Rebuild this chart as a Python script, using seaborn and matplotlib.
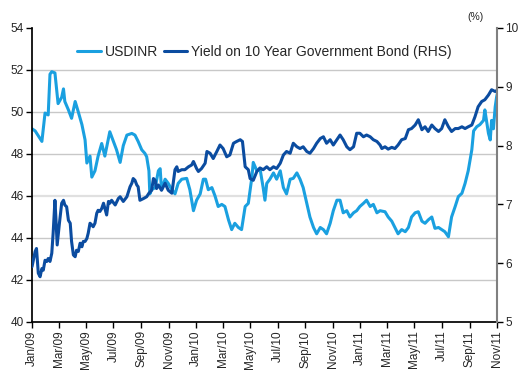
import numpy as np
import pandas as pd
import matplotlib
matplotlib.use("Agg")
import matplotlib.pyplot as plt
import matplotlib.dates as mdates
import seaborn as sns

# USD/INR exchange rate: days since 1 Jan 2009, rate
inr_days = [0, 7, 22, 29, 36, 40, 44, 51, 58, 66, 70, 73, 81, 88, 96, 103, 111, 118, 122, 129,
            133, 140, 147, 155, 162, 173, 181, 188, 196, 203, 211, 222, 229, 236, 244, 251, 255, 260,
            262, 266, 274, 281, 285, 288, 296, 303, 311, 318, 325, 333, 344, 351, 359, 366, 374,
            381, 386, 392, 400, 407, 414, 422, 429, 437, 444, 451, 459, 466, 474, 481, 489, 492,
            500, 507, 514, 518, 522, 529, 537, 544, 552, 559, 566, 574, 581, 589, 596, 603, 611,
            618, 626, 633, 641, 648, 655, 663, 670, 678, 685, 692, 700, 707, 715, 722, 729, 737,
            744, 752, 759, 767, 774, 785, 792, 800, 807, 814, 822, 830, 837, 844, 852, 859, 867,
            874, 881, 889, 896, 904, 911, 918, 926, 933, 941, 948, 956, 963, 970, 978, 982, 989,
            996, 1004, 1007, 1015, 1019, 1022, 1026, 1030, 1033, 1036]
inr_rate = [49.2, 49.1, 48.6, 49.95, 49.86, 51.8, 51.92, 51.86, 50.4, 50.7, 51.1, 50.5, 50.1, 49.7,
            50.5, 50.0, 49.4, 48.67, 47.57, 47.9, 46.9, 47.2, 47.9, 48.5, 47.9, 49.06, 48.6, 48.2,
            47.6, 48.4, 48.9, 48.98, 48.9, 48.6, 48.2, 48.03, 47.87, 47.2, 46.1, 46.3, 46.4, 47.2,
            47.3, 46.3, 46.8, 46.6, 46.3, 46.1, 46.6, 46.8, 46.84, 46.3, 45.3, 45.8, 46.1, 46.8,
            46.8, 46.3, 46.4, 46.0, 45.5, 45.6, 45.5, 44.86, 44.4, 44.7, 44.5, 44.4, 45.5, 45.65,
            46.9, 47.6, 47.2, 47.3, 46.4, 45.8, 46.6, 46.8, 47.1, 46.8, 47.2, 46.4, 46.1, 46.8,
            46.84, 47.1, 46.8, 46.4, 45.65, 45.0, 44.5, 44.2, 44.5, 44.4, 44.2, 44.7, 45.3, 45.8,
            45.8, 45.2, 45.3, 45.0, 45.2, 45.3, 45.5, 45.65, 45.8, 45.5, 45.6, 45.2, 45.3, 45.25,
            45.0, 44.8, 44.5, 44.2, 44.4, 44.3, 44.5, 45.0, 45.2, 45.25, 44.8, 44.7, 44.86, 45.0,
            44.46, 44.5, 44.4, 44.3, 44.06, 45.0, 45.5, 45.97, 46.13, 46.6, 47.2, 48.2, 49.1, 49.3,
            49.4, 49.6, 50.1, 48.98, 48.67, 49.6, 49.2, 50.25, 50.7, 51.0]

# 10-year government bond yield (%): days since 1 Jan 2009, yield
gsec_days = [0, 3, 7, 10, 14, 18, 22, 25, 29, 33, 36, 40, 44, 47, 51, 53, 56, 61, 66, 70, 73, 77,
             81, 85, 88, 92, 96, 99, 103, 107, 111, 114, 118, 122, 125, 129, 133, 136, 140, 144,
             147, 151, 155, 159, 166, 170, 173, 177, 185, 192, 196, 203, 211, 218, 222, 225, 229,
             233, 236, 240, 248, 255, 260, 266, 270, 274, 277, 281, 288, 296, 303, 311, 314, 318,
             322, 325, 333, 340, 348, 355, 359, 366, 370, 377, 385, 389, 396, 403, 411, 418, 425,
             433, 440, 448, 455, 463, 468, 474, 481, 485, 492, 500, 507, 514, 522, 529, 537, 544,
             552, 559, 566, 574, 581, 589, 596, 603, 611, 618, 626, 633, 641, 648, 655, 663, 670,
             678, 685, 692, 700, 707, 715, 722, 729, 737, 744, 752, 759, 767, 774, 778, 785, 792,
             800, 807, 814, 822, 830, 837, 844, 852, 859, 867, 874, 881, 889, 896, 904, 911, 918,
             926, 933, 941, 948, 956, 963, 970, 978, 985, 992, 1000, 1007, 1015, 1022, 1030, 1036]
gsec_yield = [5.94, 6.05, 6.20, 6.25, 5.83, 5.77, 5.91, 5.88, 6.05, 6.03, 6.08, 6.03, 6.17, 6.51,
              7.07, 6.79, 6.31, 6.68, 7.02, 7.07, 6.99, 6.96, 6.73, 6.68, 6.37, 6.14, 6.11, 6.22,
              6.20, 6.34, 6.28, 6.37, 6.37, 6.42, 6.51, 6.68, 6.65, 6.62, 6.68, 6.85, 6.90, 6.88,
              6.93, 7.02, 6.82, 7.05, 7.02, 7.07, 6.99, 7.10, 7.13, 7.05, 7.13, 7.30, 7.36, 7.44,
              7.41, 7.33, 7.30, 7.07, 7.10, 7.13, 7.19, 7.24, 7.44, 7.41, 7.27, 7.33, 7.24, 7.36,
              7.24, 7.19, 7.36, 7.59, 7.64, 7.56, 7.59, 7.59, 7.64, 7.67, 7.73, 7.61, 7.56, 7.61,
              7.70, 7.90, 7.87, 7.78, 7.90, 8.01, 7.95, 7.81, 7.84, 8.04, 8.07, 8.10, 8.07, 7.64,
              7.59, 7.44, 7.41, 7.56, 7.62, 7.59, 7.64, 7.59, 7.64, 7.61, 7.70, 7.84, 7.90, 7.87,
              8.04, 7.98, 7.95, 7.98, 7.90, 7.87, 7.95, 8.04, 8.12, 8.15, 8.04, 8.10, 8.01, 8.10,
              8.18, 8.10, 7.98, 7.93, 7.98, 8.21, 8.21, 8.15, 8.18, 8.15, 8.10, 8.07, 8.01, 7.95,
              7.98, 7.94, 7.97, 7.95, 8.01, 8.10, 8.12, 8.27, 8.29, 8.35, 8.44, 8.27, 8.32, 8.24,
              8.35, 8.29, 8.24, 8.29, 8.44, 8.32, 8.24, 8.29, 8.29, 8.32, 8.29, 8.32, 8.35, 8.49,
              8.66, 8.75, 8.78, 8.86, 8.95, 8.92, 8.95]

start = pd.Timestamp("2009-01-01")
end = pd.Timestamp("2011-11-01")
inr = pd.DataFrame({"date": start + pd.to_timedelta(inr_days, unit="D"), "value": inr_rate})
gsec = pd.DataFrame({"date": start + pd.to_timedelta(gsec_days, unit="D"), "value": gsec_yield})

light_blue = "#1AA0E0"
dark_blue = "#0B4CA0"

sns.set_theme(style="white")
plt.rcParams["font.family"] = ["Liberation Sans", "DejaVu Sans"]

fig = plt.figure(figsize=(5.19, 3.80), dpi=100)
ax = fig.add_axes([32 / 519, 1 - 322 / 380, 465 / 519, 294 / 380])
ax2 = ax.twinx()

sns.lineplot(data=inr, x="date", y="value", ax=ax, color=light_blue, linewidth=2.2)
sns.lineplot(data=gsec, x="date", y="value", ax=ax2, color=dark_blue, linewidth=2.2)

ax.set_xlim(start, end)
ax.set_ylim(40, 54)
ax.set_yticks(np.arange(40, 55, 2))
ax2.set_ylim(5, 10)
ax2.set_yticks(np.arange(5, 11, 1))

# horizontal gridlines follow the left axis
for v in range(42, 54, 2):
    ax.axhline(v, color="#E0E0E0" if v == 46 else "#C8C8C8",
               linewidth=1.6 if v == 46 else 1.0, zorder=0)

ax.set_xticks(pd.date_range(start, end, freq="2MS"))
ax.xaxis.set_major_formatter(mdates.DateFormatter("%b/%y"))
for lbl in ax.get_xticklabels():
    lbl.set_rotation(90)

for a in (ax, ax2):
    a.set_xlabel("")
    a.set_ylabel("")
    a.spines["top"].set_visible(False)

ax.spines["left"].set_color("black")
ax.spines["bottom"].set_color("black")
ax.spines["right"].set_visible(False)
ax2.spines["left"].set_visible(False)
ax2.spines["bottom"].set_visible(False)
ax2.spines["right"].set_color("#808080")
ax2.spines["right"].set_linewidth(1.5)

ax.tick_params(axis="y", which="major", direction="out", length=4, width=1, color="black",
               labelsize=8.5, pad=2, left=True)
ax.tick_params(axis="x", which="major", direction="out", length=4, width=1, color="black",
               labelsize=8.5, pad=2, bottom=True)
ax2.tick_params(axis="y", which="major", direction="out", length=4, width=1, color="black",
                labelsize=8.5, pad=2, right=True)

fig.text(476 / 519, 1 - 17 / 380, "(%)", fontsize=7.5, ha="center", va="center")

handles = [plt.Line2D([], [], color=light_blue, linewidth=2.2),
           plt.Line2D([], [], color=dark_blue, linewidth=2.2)]
ax.legend(handles, ["USDINR", "Yield on 10 Year Government Bond (RHS)"], loc="upper center",
          bbox_to_anchor=(0.5, 0.985), ncol=2, frameon=False, fontsize=10,
          handlelength=1.7, handletextpad=0.3, columnspacing=0.4)

fig.savefig("out.png", dpi=100)
